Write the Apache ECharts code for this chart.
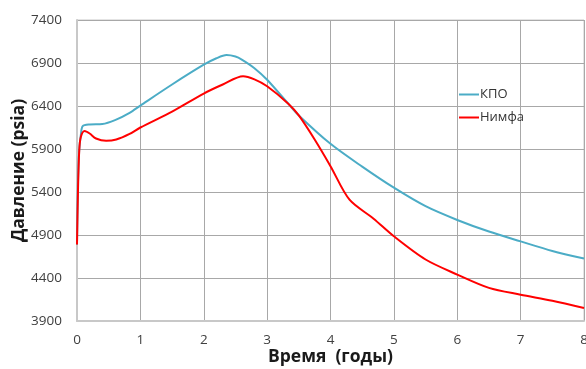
<!DOCTYPE html>
<html><head><meta charset="utf-8">
<script src="https://cdn.jsdelivr.net/npm/echarts@6/dist/echarts.min.js"></script>
<style>html,body{margin:0;padding:0;background:#fff}#c{width:586px;height:369px}</style>
</head><body><div id="c"></div>
<script>
const kpoT = [0, 0.015, 0.035, 0.06, 0.09, 0.2, 0.4, 0.6, 0.83, 1.0, 1.5, 2.0, 2.2, 2.36, 2.5, 2.6, 2.8, 3.0, 3.33, 3.5, 4.0, 4.5, 5.0, 5.5, 6.0, 6.5, 7.0, 7.5, 8.0];
const kpoP = [4790, 5500, 5885, 6060, 6165, 6185, 6190, 6235, 6320, 6405, 6650, 6880, 6955, 6992, 6975, 6940, 6840, 6705, 6430, 6290, 5960, 5695, 5450, 5235, 5075, 4940, 4826, 4715, 4626];
const nimT = [0, 0.015, 0.035, 0.06, 0.12, 0.2, 0.3, 0.46, 0.62, 0.83, 1.0, 1.5, 2.0, 2.3, 2.62, 2.8, 3.0, 3.33, 3.5, 3.75, 4.0, 4.3, 4.68, 5.0, 5.5, 6.0, 6.5, 7.0, 7.5, 8.0];
const nimP = [4790, 5400, 5880, 6040, 6110, 6080, 6022, 5995, 6010, 6075, 6150, 6335, 6545, 6650, 6746, 6710, 6630, 6430, 6290, 6010, 5700, 5310, 5090, 4885, 4615, 4440, 4285, 4206, 4136, 4051];
const seriesNames = ['КПО', 'Нимфа'];
const xTitle = 'Время  (годы)';
const yTitle = 'Давление (psia)';

const zip = (a, b) => a.map((v, i) => [v, b[i]]);
const chart = echarts.init(document.getElementById('c'));
const font = 'Open Sans';
chart.setOption({
  animation: false,
  grid: {left: 77, right: 2, top: 20, bottom: 48, outerBoundsMode: 'none', containLabel: false,
         show: true, borderColor: '#c8c8c8', borderWidth: 1},
  legend: {
    orient: 'vertical', left: 454, top: 83, itemGap: 10, itemWidth: 20, itemHeight: 2,
    icon: 'rect',
    textStyle: {fontFamily: font, fontSize: 13, color: '#333', padding: [0, 0, 0, -4]},
    data: seriesNames
  },
  xAxis: {
    type: 'value', min: 0, max: 8, interval: 1,
    name: xTitle, nameLocation: 'middle', nameGap: 27, nameMoveOverlap: false,
    nameTextStyle: {fontFamily: font, fontSize: 17.5, fontWeight: 'bold', color: '#1a1a1a'},
    axisLine: {lineStyle: {color: '#c8c8c8', width: 2}},
    axisTick: {show: false},
    axisLabel: {fontFamily: font, fontSize: 13.5, color: '#404040', margin: 12},
    splitLine: {lineStyle: {color: '#a8a8a8', width: 1}}
  },
  yAxis: {
    type: 'value', min: 3900, max: 7400, interval: 500,
    name: yTitle, nameLocation: 'middle', nameGap: 49, nameMoveOverlap: false,
    nameTextStyle: {fontFamily: font, fontSize: 17.5, fontWeight: 'bold', color: '#1a1a1a'},
    axisLine: {show: true, lineStyle: {color: '#c8c8c8', width: 2}},
    axisTick: {show: false},
    axisLabel: {fontFamily: font, fontSize: 13.5, color: '#404040', margin: 15, formatter: v => String(v)},
    splitLine: {lineStyle: {color: '#a8a8a8', width: 1}}
  },
  series: [
    {name: seriesNames[0], type: 'line', data: zip(kpoT, kpoP), smooth: 0.3, showSymbol: false,
     lineStyle: {color: '#4bacc6', width: 2}, itemStyle: {color: '#4bacc6'}},
    {name: seriesNames[1], type: 'line', data: zip(nimT, nimP), smooth: 0.3, showSymbol: false,
     lineStyle: {color: '#ff0000', width: 2}, itemStyle: {color: '#ff0000'}}
  ]
});
</script></body></html>
